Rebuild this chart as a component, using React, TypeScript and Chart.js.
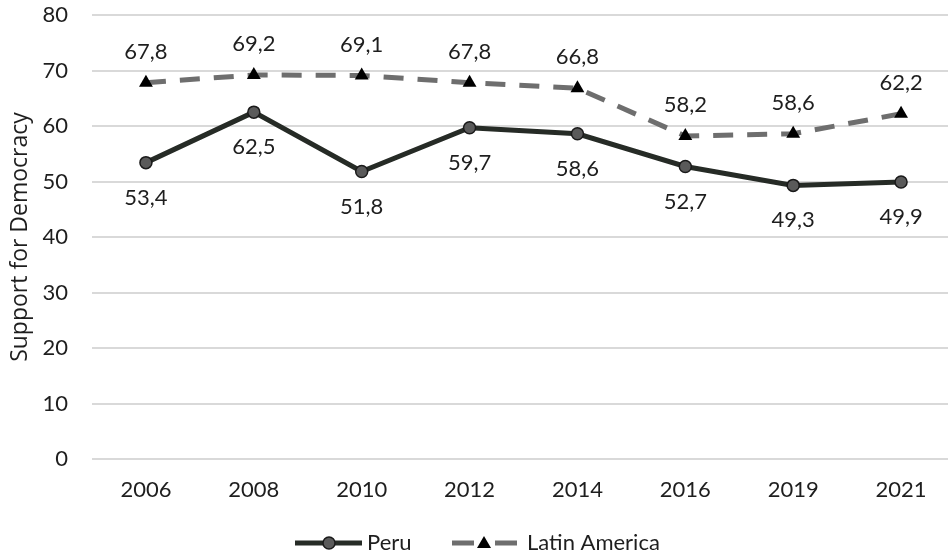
import React, { useEffect, useRef } from "react";
import { Chart, registerables } from "chart.js";

Chart.register(...registerables);

const years = ["2006", "2008", "2010", "2012", "2014", "2016", "2019", "2021"];
const peru = [53.4, 62.5, 51.8, 59.7, 58.6, 52.7, 49.3, 49.9];
const latinAmerica = [67.8, 69.2, 69.1, 67.8, 66.8, 58.2, 58.6, 62.2];
const seriesNames = ["Peru", "Latin America"];
const yTitle = "Support for Democracy";

const fmt = (v: number) => v.toFixed(1).replace(".", ",");

const labelPlugin = {
  id: "pointLabels",
  afterDatasetsDraw(chart: any) {
    const ctx = chart.ctx;
    ctx.save();
    ctx.font = "22px Lato";
    ctx.fillStyle = "#1e1e1e";
    ctx.textAlign = "center";
    ctx.textBaseline = "middle";
    chart.data.datasets.forEach((ds: any, i: number) => {
      const meta = chart.getDatasetMeta(i);
      meta.data.forEach((pt: any, j: number) => {
        const dy = i === 0 ? 35 : -31;
        ctx.fillText(fmt(ds.data[j]), pt.x, pt.y + dy);
      });
    });
    ctx.restore();
  },
  afterDraw(chart: any) {
    const ctx = chart.ctx;
    const y = 543;
    ctx.save();
    // Peru
    ctx.strokeStyle = "#262b26";
    ctx.lineWidth = 5;
    ctx.setLineDash([]);
    ctx.beginPath();
    ctx.moveTo(295, y);
    ctx.lineTo(362, y);
    ctx.stroke();
    ctx.beginPath();
    ctx.arc(329, y, 6, 0, Math.PI * 2);
    ctx.fillStyle = "#5a5a5a";
    ctx.fill();
    ctx.lineWidth = 1.5;
    ctx.strokeStyle = "#1a1a1a";
    ctx.stroke();
    // Latin America
    ctx.strokeStyle = "#6e6e6e";
    ctx.lineWidth = 5;
    ctx.beginPath();
    ctx.moveTo(452, y);
    ctx.lineTo(474, y);
    ctx.moveTo(495, y);
    ctx.lineTo(517, y);
    ctx.stroke();
    ctx.fillStyle = "#000";
    ctx.beginPath();
    ctx.moveTo(484, y - 7);
    ctx.lineTo(491, y + 5);
    ctx.lineTo(477, y + 5);
    ctx.closePath();
    ctx.fill();
    ctx.font = "22px Lato";
    ctx.fillStyle = "#1e1e1e";
    ctx.textAlign = "left";
    ctx.textBaseline = "middle";
    ctx.fillText(seriesNames[0], 367, y);
    ctx.fillText(seriesNames[1], 527, y);
    ctx.restore();
  },
};

export default function App() {
  const ref = useRef<HTMLCanvasElement>(null);
  useEffect(() => {
    if (!ref.current) return;
    const chart = new Chart(ref.current, {
      type: "line",
      data: {
        labels: years,
        datasets: [
          {
            label: seriesNames[0],
            data: peru,
            borderColor: "#262b26",
            borderWidth: 5,
            pointStyle: "circle",
            pointRadius: 6,
            pointBackgroundColor: "#5a5a5a",
            pointBorderColor: "#1a1a1a",
            pointBorderWidth: 1.5,
            tension: 0,
          },
          {
            label: seriesNames[1],
            data: latinAmerica,
            borderColor: "#6e6e6e",
            borderWidth: 5,
            borderDash: [20, 14],
            pointStyle: "triangle",
            pointRadius: 8,
            pointBackgroundColor: "#000",
            pointBorderColor: "#000",
            pointBorderWidth: 0,
            tension: 0,
          },
        ],
      },
      options: {
        animation: false,
        responsive: false,
        layout: { padding: { top: 15, bottom: 46, left: 0, right: 0 } },
        plugins: { legend: { display: false }, tooltip: { enabled: false } },
        scales: {
          x: {
            type: "category",
            offset: true,
            grid: { display: false, drawTicks: false },
            border: { display: false },
            ticks: { font: { family: "Lato", size: 22 }, color: "#1e1e1e", padding: 18 },
            afterFit: (s: any) => {
              s.height = 51;
              s.paddingLeft = 0;
              s.paddingRight = 0;
            },
          },
          y: {
            min: 0,
            max: 80,
            ticks: { stepSize: 10, font: { family: "Lato", size: 22 }, color: "#1e1e1e", padding: 24 },
            grid: { color: "#d9d9d9", lineWidth: 2, drawTicks: false },
            border: { display: false },
            title: {
              display: true,
              text: yTitle,
              font: { family: "Open Sans", size: 23 },
              color: "#1e1e1e",
              padding: { top: 7, bottom: 0 },
            },
            afterFit: (s: any) => {
              s.width = 92;
              s.paddingTop = 0;
              s.paddingBottom = 0;
            },
          },
        },
      },
      plugins: [labelPlugin],
    });
    return () => chart.destroy();
  }, []);
  return (
    <div style={{ position: "fixed", left: 0, top: 0, width: 948, height: 556, overflow: "hidden", background: "#fff" }}>
      <canvas ref={ref} width={963} height={556} style={{ display: "block", width: 963, height: 556 }} />
    </div>
  );
}
